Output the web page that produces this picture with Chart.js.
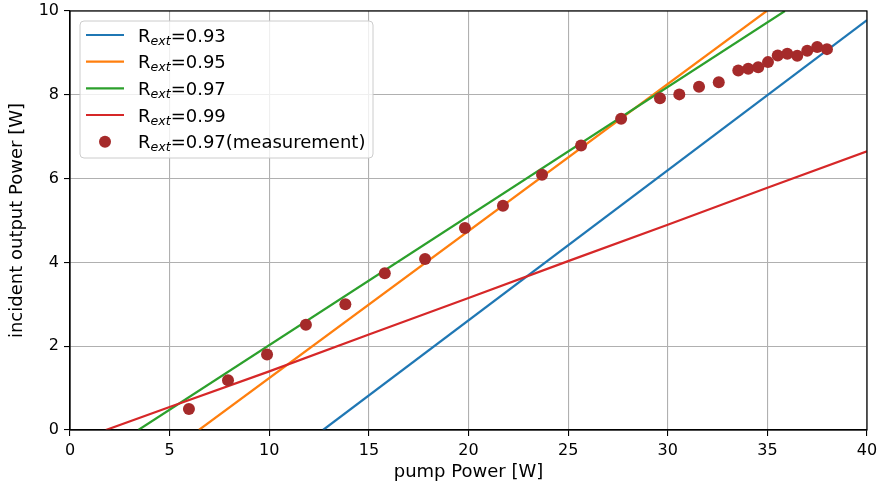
<!DOCTYPE html>
<html>
<head>
<meta charset="utf-8">
<script src="https://cdn.jsdelivr.net/npm/chart.js@4/dist/chart.umd.min.js"></script>
<style>
  html, body { margin: 0; padding: 0; background: #fff; }
  #wrap { width: 882px; height: 488px; position: relative; }
</style>
</head>
<body>
<div id="wrap"><canvas id="c" width="882" height="488"></canvas></div>
<script>
// ---- data ----
const xTicks = [0, 5, 10, 15, 20, 25, 30, 35, 40];
const yTicks = [0, 2, 4, 6, 8, 10];

const labels = ["0.93", "0.95", "0.97", "0.99", "0.97(measurement)"];

const r093X = [12.7, 40.0];
const r093Y = [0.0, 9.78];

const r095X = [6.47, 34.96];
const r095Y = [0.0, 10.0];

const r097X = [3.43, 35.88];
const r097Y = [0.0, 10.0];

const r099X = [1.8, 5, 10, 15, 20, 25, 30, 35, 40];
const r099Y = [0.0, 0.55, 1.4, 2.28, 3.15, 4.03, 4.9, 5.78, 6.65];

const measX = [5.97, 7.93, 9.89, 11.84, 13.82, 15.8, 17.82, 19.82, 21.73, 23.69, 25.65, 27.66,
               29.61, 30.58, 31.57, 32.56, 33.54, 34.04, 34.54, 35.03, 35.52, 36.0, 36.5, 37.0, 37.5, 37.99];
const measY = [0.50, 1.19, 1.80, 2.51, 3.00, 3.74, 4.08, 4.82, 5.35, 6.09, 6.79, 7.43,
               7.92, 8.01, 8.19, 8.30, 8.58, 8.62, 8.66, 8.78, 8.94, 8.98, 8.93, 9.05, 9.14, 9.09];

const colors = ['#1f77b4', '#ff7f0e', '#2ca02c', '#d62728', '#a52a2a'];

const pts = (xs, ys) => xs.map((x, i) => ({ x: x, y: ys[i] }));

const FONT = "'DejaVu Sans', 'Liberation Sans', sans-serif";

const lineDs = (xs, ys, i, order) => ({
  type: 'line',
  label: 'R_ext=' + labels[i],
  data: pts(xs, ys),
  borderColor: colors[i],
  backgroundColor: colors[i],
  borderWidth: 2.2,
  pointRadius: 0,
  tension: 0,
  fill: false,
  order: order
});

const frameAndLegend = {
  id: 'frameAndLegend',
  afterDatasetsDraw(chart) {
    const ctx = chart.ctx;
    const a = chart.chartArea;
    ctx.save();
    // spines
    ctx.strokeStyle = '#000';
    ctx.lineWidth = 1.2;
    ctx.strokeRect(a.left, a.top, a.right - a.left, a.bottom - a.top);

    // legend box
    const bx = a.left + 10, by = a.top + 10, bw = 293, bh = 137, r = 4;
    ctx.beginPath();
    ctx.moveTo(bx + r, by);
    ctx.lineTo(bx + bw - r, by);
    ctx.quadraticCurveTo(bx + bw, by, bx + bw, by + r);
    ctx.lineTo(bx + bw, by + bh - r);
    ctx.quadraticCurveTo(bx + bw, by + bh, bx + bw - r, by + bh);
    ctx.lineTo(bx + r, by + bh);
    ctx.quadraticCurveTo(bx, by + bh, bx, by + bh - r);
    ctx.lineTo(bx, by + r);
    ctx.quadraticCurveTo(bx, by, bx + r, by);
    ctx.closePath();
    ctx.fillStyle = 'rgba(255,255,255,0.8)';
    ctx.fill();
    ctx.strokeStyle = '#cccccc';
    ctx.lineWidth = 1;
    ctx.stroke();

    for (let i = 0; i < labels.length; i++) {
      const cy = by + 14 + i * 26.67;
      if (i < 4) {
        ctx.strokeStyle = colors[i];
        ctx.lineWidth = 2.2;
        ctx.beginPath();
        ctx.moveTo(bx + 6, cy);
        ctx.lineTo(bx + 44, cy);
        ctx.stroke();
      } else {
        ctx.fillStyle = colors[i];
        ctx.beginPath();
        ctx.arc(bx + 25, cy, 6, 0, Math.PI * 2);
        ctx.fill();
      }
      const base = cy + 6.6;
      let tx = bx + 58;
      ctx.fillStyle = '#000';
      ctx.textBaseline = 'alphabetic';
      ctx.textAlign = 'left';
      ctx.font = "18px " + FONT;
      ctx.fillText('R', tx, base);
      tx += ctx.measureText('R').width;
      ctx.font = "italic 12.6px " + FONT;
      ctx.fillText('ext', tx, base + 3.2);
      tx += ctx.measureText('ext').width;
      ctx.font = "18px " + FONT;
      ctx.fillText('=' + labels[i], tx, base);
    }
    ctx.restore();
  }
};

new Chart(document.getElementById('c'), {
  type: 'scatter',
  data: {
    datasets: [
      {
        type: 'scatter',
        label: 'R_ext=' + labels[4],
        data: pts(measX, measY),
        backgroundColor: colors[4],
        borderColor: colors[4],
        borderWidth: 0,
        pointRadius: 6,
        order: 0
      },
      lineDs(r099X, r099Y, 3, 1),
      lineDs(r097X, r097Y, 2, 2),
      lineDs(r095X, r095Y, 1, 3),
      lineDs(r093X, r093Y, 0, 4)
    ]
  },
  options: {
    responsive: false,
    animation: false,
    devicePixelRatio: 1,
    layout: { padding: 0 },
    plugins: {
      legend: { display: false },
      tooltip: { enabled: false },
      title: { display: false }
    },
    scales: {
      x: {
        type: 'linear',
        min: 0, max: 40,
        afterBuildTicks: (s) => { s.ticks = xTicks.map(v => ({ value: v })); },
        afterFit: (s) => { s.height = 58; s.paddingLeft = 0; s.paddingRight = 15; },
        ticks: { color: '#000', font: { family: FONT, size: 16 }, padding: 5, maxRotation: 0 },
        grid: { color: '#b0b0b0', lineWidth: 1.1, tickColor: '#000', tickLength: 6, tickWidth: 1.1 },
        border: { color: '#000', width: 1.2 },
        title: { display: true, text: 'pump Power [W]', color: '#000', font: { family: FONT, size: 18 }, padding: { top: 0, bottom: 5 } }
      },
      y: {
        type: 'linear',
        min: 0, max: 10,
        afterBuildTicks: (s) => { s.ticks = yTicks.map(v => ({ value: v })); },
        afterFit: (s) => { s.width = 70; s.paddingTop = 11; s.paddingBottom = 0; },
        ticks: { color: '#000', font: { family: FONT, size: 16 }, padding: 5 },
        grid: { color: '#b0b0b0', lineWidth: 1.1, tickColor: '#000', tickLength: 6, tickWidth: 1.1 },
        border: { color: '#000', width: 1.2 },
        title: { display: true, text: 'incident output Power [W]', color: '#000', font: { family: FONT, size: 18 }, padding: { top: 7, bottom: 0 } }
      }
    }
  },
  plugins: [frameAndLegend]
});
</script>
</body>
</html>
